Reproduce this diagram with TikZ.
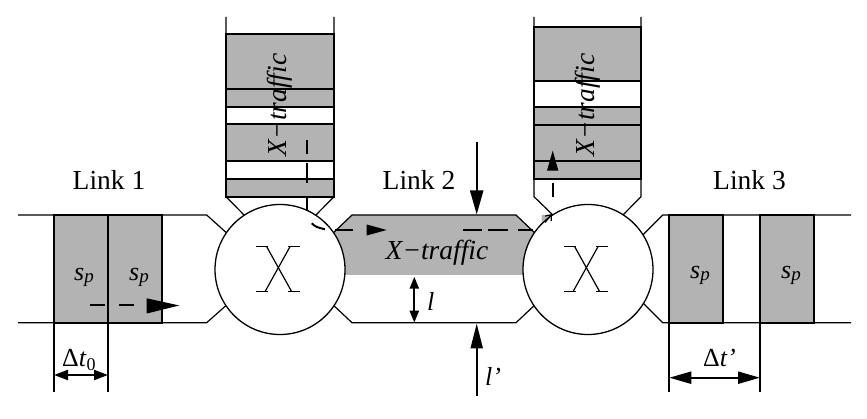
\documentclass[tikz,border=0pt]{standalone}
\usepackage{fontspec}
\setmainfont{Liberation Serif}
\usetikzlibrary{arrows.meta}
\definecolor{pgrey}{RGB}{179,179,179}
\tikzset{
  thinline/.style={line width=1.2pt, line join=miter},
  packet/.style={draw, line width=2.2pt, fill=pgrey},
  wpacket/.style={draw, line width=2.2pt, fill=white},
  switchnode/.style={draw, line width=1.3pt, fill=white, circle, minimum size=130pt, inner sep=0pt},
  dsh/.style={line width=2pt},
  lbl/.style={font=\fontsize{27.5}{30}\selectfont, inner sep=0pt},
  ilbl/.style={font=\fontsize{26}{28}\selectfont\itshape, inner sep=0pt},
  xlbl/.style={font=\fontsize{27.5}{30}\selectfont\itshape, inner sep=0pt},
  headtri/.style={fill=black},
}
\newcommand\myspl{s\raisebox{-2pt}{\fontsize{19}{20}\selectfont p}}
\begin{document}
\begin{tikzpicture}[x=1pt,y=-1pt]
\useasboundingbox (0,0) rectangle (867,419);
% grey traffic in link 2
\fill[pgrey] (330,236) -- (352,215) -- (516,215) -- (538,236) -- (538,275) -- (330,275) -- cycle;
\fill[pgrey] (541.7,215) -- (551,215) -- (541.7,222) -- cycle;
% link boundaries
\draw[thinline] (18,215) -- (206.7,215) -- (230,236);
\draw[thinline] (18,322.7) -- (206.7,322.7) -- (230,302);
\draw[thinline] (330,236) -- (352,215) -- (516,215) -- (538,236);
\draw[thinline] (330,302) -- (352,322.7) -- (516,322.7) -- (538,302);
\draw[thinline] (851,215) -- (662.7,215) -- (640,237.7);
\draw[thinline] (851,322.7) -- (662.7,322.7) -- (640,300);
% lanes
\draw[thinline] (226,17) -- (226,196.7) -- (248,219);
\draw[thinline] (334,17) -- (334,196.7) -- (312,219);
\draw[thinline] (534,17) -- (534,196.7) -- (556,218);
\draw[thinline] (641,17) -- (641,196.7) -- (619,219);
% lane 1 packets
\draw[packet]  (226,34.3) rectangle (334,89);
\draw[packet]  (226,89) rectangle (334,106.7);
\draw[wpacket] (226,106.7) rectangle (334,124.3);
\draw[packet]  (226,124.3) rectangle (334,161);
\draw[wpacket] (226,161) rectangle (334,179);
\draw[packet]  (226,179) rectangle (334,196.7);
% lane 2 packets
\draw[packet]  (534,26.7) rectangle (641,80.7);
\draw[wpacket] (534,80.7) rectangle (641,106.7);
\draw[packet]  (534,106.7) rectangle (641,125);
\draw[packet]  (534,125) rectangle (641,160.7);
\draw[packet]  (534,160.7) rectangle (641,179);
% link packets
\draw[packet] (54,215) rectangle (108,322.7);
\draw[packet] (108,215) rectangle (162,322.7);
\draw[packet] (669.3,215) rectangle (722.7,322.7);
\draw[packet] (760,215) rectangle (814,322.7);
% switches
\node[switchnode] (c1) at (280,269.5) {};
\node[switchnode] (c2) at (588,269.5) {};
\foreach \cx in {278.3,586.3}{
  \draw[thinline] ({\cx-22.3},246.7) -- ({\cx-10},246.7);
  \draw[thinline] ({\cx+10},246.7) -- ({\cx+21.7},246.7);
  \draw[thinline] ({\cx-22.3},291.7) -- ({\cx-10},291.7);
  \draw[thinline] ({\cx+10},291.7) -- ({\cx+21.7},291.7);
  \draw[thinline] ({\cx-11.6},246.7) -- ({\cx+13.4},291.7);
  \draw[thinline] ({\cx+11.7},246.7) -- ({\cx-13.3},291.7);
}
% dashed flows
\draw[dsh] (90,305.5) -- (105,305.5);
\draw[dsh] (119,305.5) -- (134,305.5);
\fill[headtri] (146.7,298.3) -- (179.3,305.5) -- (146.7,313.5) -- cycle;
\draw[dsh] (307,140) -- (307,154);
\draw[dsh] (307,163) -- (307,183);
\draw[dsh] (307,197) -- (307,211);
\draw[dsh] (311.7,223.3) .. controls (316,227) .. (325,229.3);
\draw[dsh] (335,230) -- (353,230);
\fill[headtri] (366.7,224.5) -- (386.7,230) -- (366.7,235.5) -- cycle;
\draw[dsh] (463.3,230) -- (481.7,230);
\draw[dsh] (488.3,230) -- (508.3,230);
\draw[dsh] (518.3,230) -- (533,230);
\draw[dsh] (552.7,182.7) -- (552.7,196.7);
\fill[headtri] (547,170.7) -- (552.7,150.7) -- (558.4,170.7) -- cycle;
\draw[thinline, -{Straight Barb[length=5pt,width=8pt]}] (545,222.5) -- (552,214);
% labels
\node[lbl, anchor=base] (L1) at (109,190) {Link 1};
\node[lbl, anchor=base] (L2) at (419,190) {Link 2};
\node[lbl, anchor=base] (L3) at (749.5,190) {Link 3};
\node[xlbl, rotate=90] (xt1) at (280,105) {X−traffic};
\node[xlbl, rotate=90] (xt2) at (588,105) {X−traffic};
\node[xlbl, anchor=base] (xt3) at (437,260) {X−traffic};
\node[ilbl, anchor=base west] (s1) at (74,280.7) {\myspl};
\node[ilbl, anchor=base west] (s2) at (129,280.7) {\myspl};
\node[ilbl, anchor=base west] (s3) at (690,278.5) {\myspl};
\node[ilbl, anchor=base west] (s4) at (781,278.5) {\myspl};
\node[ilbl, anchor=base west] (ll) at (427,310.5) {l};
\node[ilbl, anchor=base west] (llp) at (485,385) {l’};
\node[lbl, font=\fontsize{26}{28}\selectfont, anchor=base west] (dt0) at (62,366.7) {Δ\textit{t}\raisebox{-4pt}{\fontsize{18}{18}\selectfont 0}};
\node[lbl, font=\fontsize{26}{28}\selectfont, anchor=base west] (dtp) at (703,366.7) {Δ\textit{t’}};
% measurement lines
\draw[line width=2pt] (54,322.7) -- (54,392);
\draw[line width=2pt] (108,322.7) -- (108,392);
\draw[line width=2pt] (669.3,322.7) -- (669.3,392);
\draw[line width=2pt] (760,322.7) -- (760,392);
\draw[line width=2.2pt, {Triangle[length=14pt,width=10pt]}-{Triangle[length=14pt,width=10pt]}] (54,375) -- (108,375);
\draw[line width=2.2pt, {Triangle[length=22pt,width=12pt]}-{Triangle[length=22pt,width=12pt]}] (669.3,377.7) -- (760,377.7);
\draw[line width=2.2pt, {Triangle[length=12pt,width=9pt]}-{Triangle[length=12pt,width=9pt]}] (414.3,276.7) -- (414.3,322.7);
\draw[line width=2.2pt, -{Triangle[length=24pt,width=13pt]}] (476.7,142) -- (476.7,214.5);
\draw[line width=2.2pt, -{Triangle[length=25pt,width=12pt]}] (476.7,396) -- (476.7,323.5);
\end{tikzpicture}
\end{document}
